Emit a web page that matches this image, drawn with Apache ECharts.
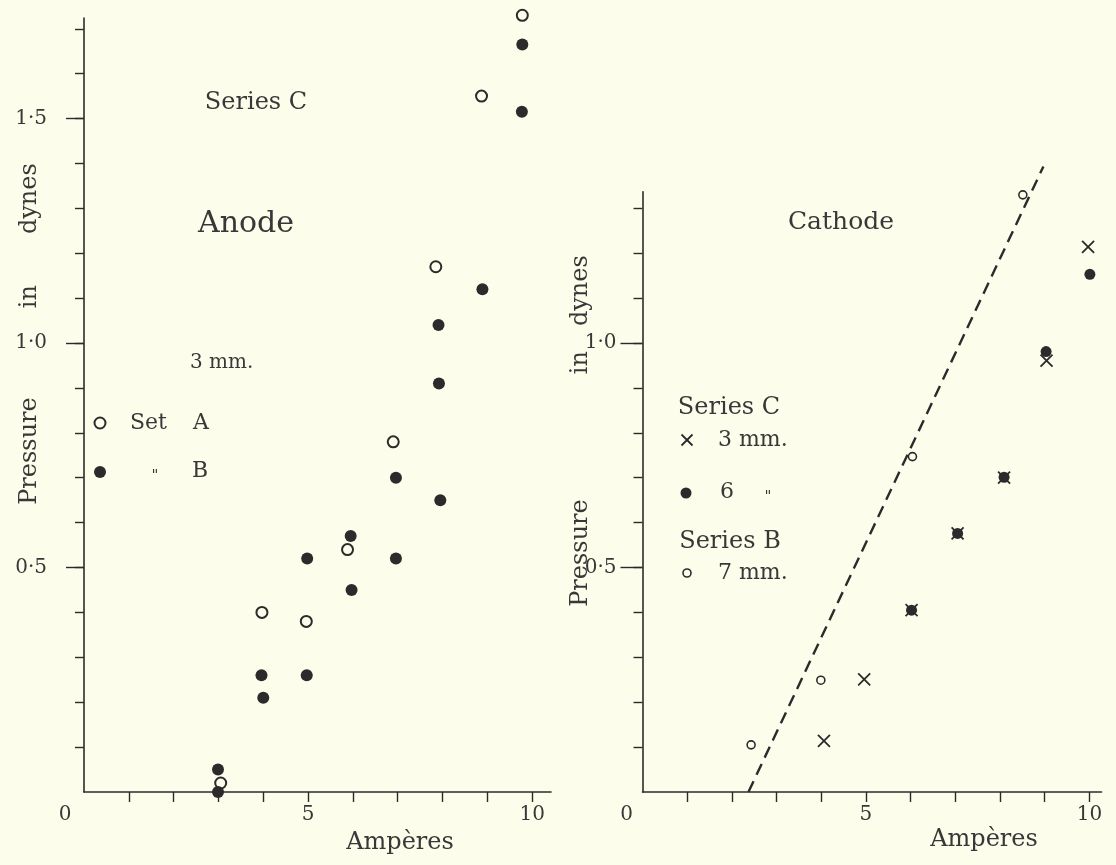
<!DOCTYPE html>
<html>
<head>
<meta charset="utf-8">
<title>Pressure on electrodes — Anode and Cathode</title>
<script src="https://cdn.jsdelivr.net/npm/echarts@6/dist/echarts.min.js"></script>
<style>
  html, body { margin: 0; padding: 0; background: #fdfdec; }
  #chart { width: 1116px; height: 865px; }
</style>
</head>
<body>
<div id="chart"></div>
<script>
// ---- data: current (amperes) vs pressure (dynes) ----
// Anode, Series C, 3 mm
const anodeSetA = [[3.05, 0.02], [3.97, 0.40], [4.96, 0.38], [5.88, 0.54], [6.90, 0.78], [7.85, 1.17], [8.87, 1.55], [9.78, 1.73]];
const anodeSetB = [[2.99, 0.00], [2.99, 0.05], [3.96, 0.26], [4.00, 0.21], [4.97, 0.26], [4.98, 0.52], [5.95, 0.57], [5.97, 0.45],
                   [6.96, 0.70], [6.96, 0.52], [7.91, 1.04], [7.92, 0.91], [7.95, 0.65], [8.89, 1.12], [9.77, 1.515], [9.78, 1.665]];
// Cathode
const cathodeC3mm = [[4.06, 0.114], [4.96, 0.251], [6.02, 0.405], [7.05, 0.576], [8.09, 0.70], [9.04, 0.961], [9.97, 1.214]];
const cathodeC6mm = [[6.02, 0.405], [7.05, 0.576], [8.09, 0.701], [9.03, 0.981], [10.01, 1.153]];
const cathodeB7mm = [[2.43, 0.105], [3.99, 0.249], [6.04, 0.747], [8.51, 1.330]];
const cathodeTrend = [[2.37, 0.0], [8.97, 1.393]];

// ---- axis ticks and labels ----
const ampTicks = [1, 2, 3, 4, 5, 6, 7, 8, 9, 10];
const ampLabels = [0, 5, 10];
const anodeTicks = [0.1, 0.2, 0.3, 0.4, 0.5, 0.6, 0.7, 0.8, 0.9, 1.0, 1.1, 1.2, 1.3, 1.4, 1.5, 1.6, 1.7];
const anodeLabels = [0.5, 1.0, 1.5];
const cathodeTicks = [0.1, 0.2, 0.3, 0.4, 0.5, 0.6, 0.7, 0.8, 0.9, 1.0, 1.1, 1.2, 1.3];
const cathodeLabels = [0.5, 1.0];

const ink = '#2b2b2b';
const textInk = '#383838';
const paper = '#fdfdec';
const serif = '"DejaVu Serif", "Liberation Serif", serif';

const chart = echarts.init(document.getElementById('chart'), null, { renderer: 'canvas' });

function ampAxis(gridIndex, max, zeroShift) {
  return {
    type: 'value', gridIndex, min: 0, max,
    axisLine: { show: true, lineStyle: { color: ink, width: 1.6 } },
    axisTick: { show: true, customValues: ampTicks, length: 10, lineStyle: { color: ink, width: 1.4 } },
    axisLabel: {
      show: true, customValues: ampLabels, margin: 13,
      color: textInk, fontFamily: serif, fontSize: 20,
      formatter: v => (v === 0 ? '{o|0}' : String(v)),
      rich: { o: { padding: [0, zeroShift * 2, 0, 0], color: textInk, fontFamily: serif, fontSize: 20 } }
    },
    splitLine: { show: false }
  };
}

function pressureMinorAxis(gridIndex, max, ticks) {
  return {
    type: 'value', gridIndex, min: 0, max, position: 'left',
    axisLine: { show: true, lineStyle: { color: ink, width: 1.6 } },
    axisTick: { show: true, customValues: ticks, length: 9, lineStyle: { color: ink, width: 1.4 } },
    axisLabel: { show: false },
    splitLine: { show: false }
  };
}

function pressureMajorAxis(gridIndex, max, labels, tickLen, margin) {
  return {
    type: 'value', gridIndex, min: 0, max, position: 'left', offset: 0,
    axisLine: { show: false },
    axisTick: { show: true, customValues: labels, length: tickLen, lineStyle: { color: ink, width: 1.4 } },
    axisLabel: {
      show: true, customValues: labels, margin,
      color: textInk, fontFamily: serif, fontSize: 20,
      formatter: v => v.toFixed(1).replace('.', '·')
    },
    splitLine: { show: false }
  };
}

function label(text, x, y, size, align) {
  return {
    type: 'text', x, y, silent: true,
    style: { text, fill: textInk, fontFamily: serif, fontSize: size, align: align || 'center', verticalAlign: 'middle' }
  };
}

function pressureName(x, y, gapA, gapB) {
  return {
    type: 'text', x, y, rotation: Math.PI / 2, silent: true,
    style: {
      text: 'Pressure{a| }in{b| }dynes',
      fill: textInk, fontFamily: serif, fontSize: 24, align: 'center', verticalAlign: 'middle',
      rich: { a: { width: gapA, fontSize: 24 }, b: { width: gapB, fontSize: 24 } }
    }
  };
}

function cross(cx, cy, h) {
  return {
    type: 'group', silent: true,
    children: [
      { type: 'line', shape: { x1: cx - h, y1: cy - h, x2: cx + h, y2: cy + h }, style: { stroke: ink, lineWidth: 1.8 } },
      { type: 'line', shape: { x1: cx - h, y1: cy + h, x2: cx + h, y2: cy - h }, style: { stroke: ink, lineWidth: 1.8 } }
    ]
  };
}

const crossPath = 'path://M0,0L10,10M10,0L0,10';

const option = {
  backgroundColor: paper,
  animation: false,
  grid: [
    { left: 84, top: 18, width: 467, height: 774 },
    { left: 642.5, top: 191.7, width: 459, height: 600.3 }
  ],
  xAxis: [ampAxis(0, 10.42, 19), ampAxis(1, 10.27, 16)],
  yAxis: [
    pressureMinorAxis(0, 1.724, anodeTicks),
    pressureMajorAxis(0, 1.724, anodeLabels, 18, 37),
    pressureMinorAxis(1, 1.337, cathodeTicks),
    pressureMajorAxis(1, 1.337, cathodeLabels, 22, 26)
  ],
  series: [
    {
      name: 'Set A', type: 'scatter', xAxisIndex: 0, yAxisIndex: 0, clip: false,
      data: anodeSetA, symbol: 'circle', symbolSize: 11,
      itemStyle: { color: paper, borderColor: ink, borderWidth: 2, opacity: 1 }
    },
    {
      name: 'Set B', type: 'scatter', xAxisIndex: 0, yAxisIndex: 0, clip: false,
      data: anodeSetB, symbol: 'circle', symbolSize: 12,
      itemStyle: { color: ink, opacity: 1 }
    },
    {
      name: 'Series B trend', type: 'line', xAxisIndex: 1, yAxisIndex: 2, clip: false,
      data: cathodeTrend, symbol: 'none',
      lineStyle: { color: ink, width: 2.4, type: [12, 7] }
    },
    {
      name: 'Series B 7 mm', type: 'scatter', xAxisIndex: 1, yAxisIndex: 2, clip: false,
      data: cathodeB7mm, symbol: 'circle', symbolSize: 8,
      itemStyle: { color: paper, borderColor: ink, borderWidth: 1.6, opacity: 1 }
    },
    {
      name: 'Series C 6 mm', type: 'scatter', xAxisIndex: 1, yAxisIndex: 2, clip: false,
      data: cathodeC6mm, symbol: 'circle', symbolSize: 11,
      itemStyle: { color: ink, opacity: 1 }
    },
    {
      name: 'Series C 3 mm', type: 'scatter', xAxisIndex: 1, yAxisIndex: 2, clip: false,
      data: cathodeC3mm, symbol: crossPath, symbolSize: 12,
      itemStyle: { color: 'rgba(0,0,0,0)', borderColor: ink, borderWidth: 1.8, opacity: 1 }
    }
  ],
  graphic: [
    // anode panel
    label('Series C', 256, 103, 24),
    label('Anode', 246, 224, 30),
    label('3 mm.', 190, 363, 20, 'left'),
    { type: 'circle', shape: { cx: 100, cy: 423, r: 5.5 }, style: { fill: paper, stroke: ink, lineWidth: 2 }, silent: true },
    label('Set', 130, 423, 22, 'left'),
    label('A', 193, 423, 22, 'left'),
    { type: 'circle', shape: { cx: 100, cy: 472, r: 6 }, style: { fill: ink }, silent: true },
    label('"', 155, 476, 15),
    label('B', 192, 471, 22, 'left'),
    pressureName(30, 334, 89, 51),
    label('Ampères', 400, 843, 24),
    // cathode panel
    label('Cathode', 841, 222, 25),
    label('Series C', 729, 408, 24),
    cross(687, 440, 5.5),
    label('3 mm.', 718, 440, 22, 'left'),
    { type: 'circle', shape: { cx: 686, cy: 493, r: 5.5 }, style: { fill: ink }, silent: true },
    label('6', 727, 492, 22),
    label('"', 768, 497, 15),
    label('Series B', 730, 542, 24),
    { type: 'circle', shape: { cx: 687, cy: 573, r: 4 }, style: { fill: paper, stroke: ink, lineWidth: 1.6 }, silent: true },
    label('7 mm.', 718, 573, 22, 'left'),
    pressureName(581, 431, 125, 25),
    label('Ampères', 984, 840, 24)
  ]
};

chart.setOption(option);
</script>
</body>
</html>
